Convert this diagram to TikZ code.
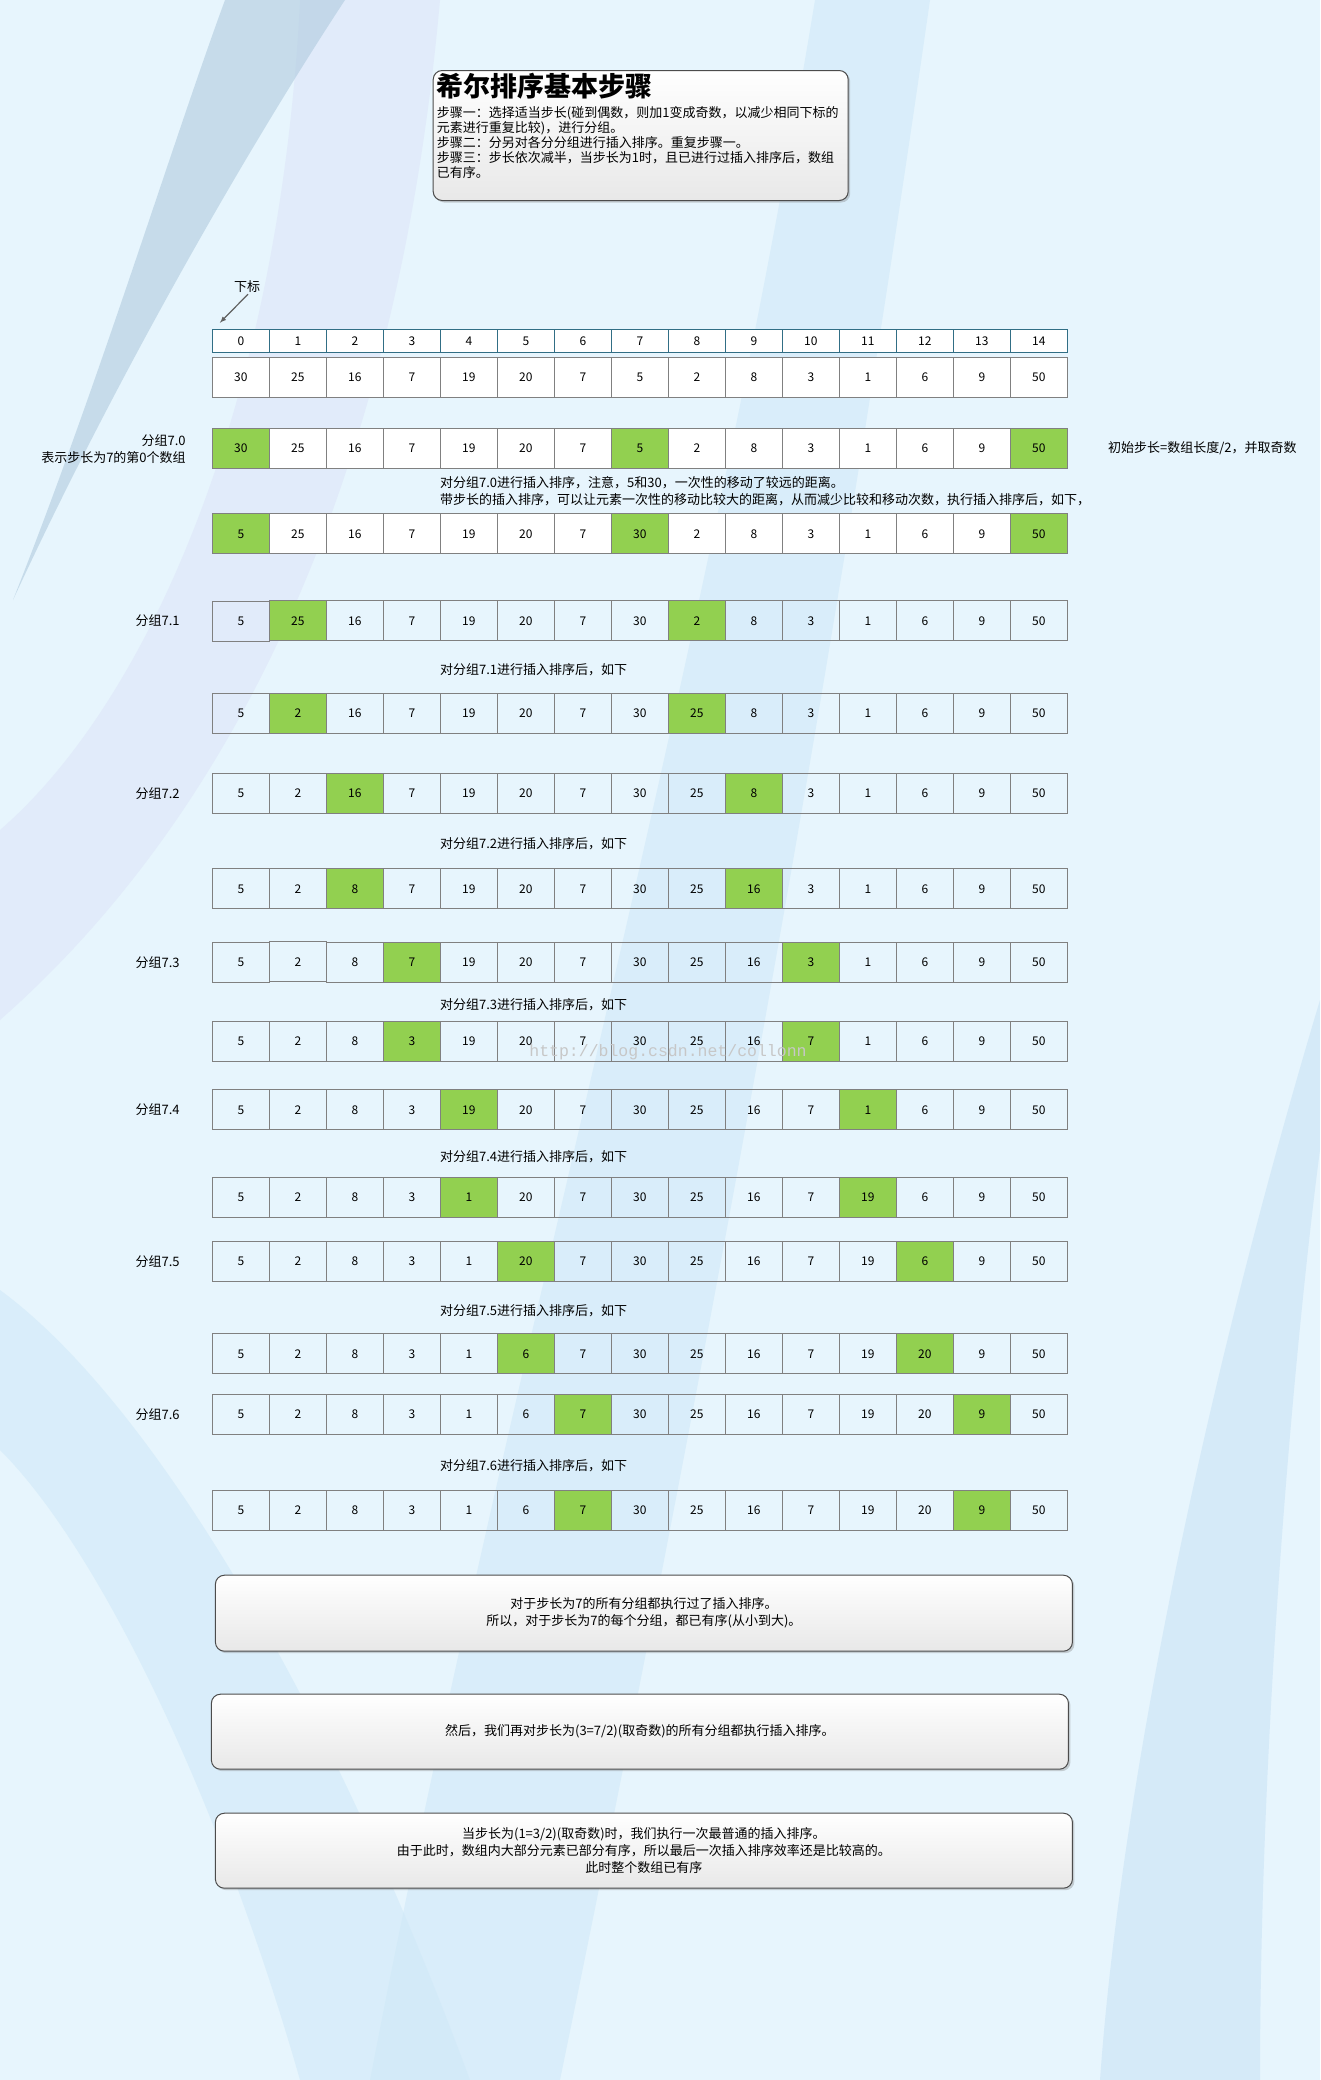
\documentclass[tikz,border=0pt]{standalone}
\usepackage{xcolor}
\usepackage{fontspec}
\setmainfont{Noto Sans CJK SC}
\newfontfamily\markfont{Liberation Mono}
\usepackage{tikz}
\usetikzlibrary{matrix}
\usetikzlibrary{positioning,calc,shadows}

\definecolor{bgblue}{RGB}{231,245,253}
\definecolor{swgray}{RGB}{176,203,222}
\definecolor{swlav}{RGB}{214,217,245}
\definecolor{swlight}{RGB}{208,233,248}
\definecolor{swblue}{RGB}{192,221,243}
\definecolor{cellgray}{RGB}{128,128,128}
\definecolor{idxteal}{RGB}{49,110,133}
\definecolor{hlgreen}{RGB}{146,208,80}
\definecolor{panelgray}{RGB}{232,232,232}
\definecolor{pointergray}{RGB}{96,96,96}

\tikzset{
  cell/.style={draw=cellgray, line width=1pt, minimum width=57pt, minimum height=40pt, inner sep=0pt, font=\fontsize{12}{14}\selectfont},
  idx/.style={draw=idxteal, fill=white, minimum height=23pt},
  hl/.style={fill=hlgreen},
  note/.style={font=\fontsize{13}{17}\selectfont, inner sep=0pt, align=left},
  grouplabel/.style={font=\fontsize{13}{17}\selectfont, inner sep=0pt, align=right},
  panel/.style={draw=black!70, line width=1pt, rounded corners=9pt, top color=white, bottom color=panelgray,
    drop shadow={shadow xshift=2pt, shadow yshift=-2pt, opacity=0.35}, align=center, font=\fontsize{13}{17}\selectfont}
}

\begin{document}
\begin{tikzpicture}[x=1pt,y=-1pt]
\useasboundingbox (0,0) rectangle (1320,2080);
\fill[bgblue] (0,0) rectangle (1320,2080);
\fill[swlav, opacity=.35] (300,0) .. controls (280,400) and (150,700) .. (0,830) -- (0,1020) .. controls (250,800) and (400,450) .. (440,0) -- cycle;
\fill[swgray, opacity=.6] (13,600) .. controls (100,380) and (170,150) .. (225,0) -- (345,0) .. controls (240,160) and (110,390) .. (13,600) -- cycle;
\fill[swlight, opacity=.6] (815,0) .. controls (700,700) and (500,1400) .. (370,2080) -- (560,2080) .. controls (700,1400) and (830,700) .. (930,0) -- cycle;
\fill[swlight, opacity=.6] (0,1290) .. controls (150,1400) and (330,1700) .. (470,2080) -- (300,2080) .. controls (220,1800) and (100,1550) .. (0,1450) -- cycle;
\fill[swblue, opacity=.45] (1320,1000) .. controls (1200,1400) and (1120,1800) .. (1100,2080) -- (1260,2080) .. controls (1260,1700) and (1300,1300) .. (1320,1150) -- cycle;

\node[panel, minimum width=415pt, minimum height=130pt, anchor=north west] (steps) at (432.7,70) {};
\node[anchor=north west, inner sep=0pt, font=\fontsize{27}{30}\selectfont\bfseries] (title) at ([xshift=4pt,yshift=-3pt]steps.north west) {希尔排序基本步骤};
\node[note, anchor=north west, font=\fontsize{13}{15}\selectfont] (body) at ([xshift=4pt,yshift=-36pt]steps.north west)
  {步骤一：选择适当步长(碰到偶数，则加1变成奇数，以减少相同下标的\\元素进行重复比较)，进行分组。\\步骤二：分另对各分分组进行插入排序。重复步骤一。\\步骤三：步长依次减半，当步长为1时，且已进行过插入排序后，数组\\已有序。};

\matrix[matrix of nodes, nodes={cell}, column sep=-1pt, row sep=0pt, inner sep=0pt, anchor=north west,
  row 1/.style={nodes={idx}}, row 2/.style={nodes={fill=white}}, row 3/.style={nodes={fill=white}}, row 4/.style={nodes={fill=white}}] (a) at (211.7,328.5)
{0 & 1 & 2 & 3 & 4 & 5 & 6 & 7 & 8 & 9 & 10 & 11 & 12 & 13 & 14 \\[4pt]
 30 & 25 & 16 & 7 & 19 & 20 & 7 & 5 & 2 & 8 & 3 & 1 & 6 & 9 & 50 \\[30pt]
 |[hl]|30 & 25 & 16 & 7 & 19 & 20 & 7 & |[hl]|5 & 2 & 8 & 3 & 1 & 6 & 9 & |[hl]|50 \\[44pt]
 |[hl]|5 & 25 & 16 & 7 & 19 & 20 & 7 & |[hl]|30 & 2 & 8 & 3 & 1 & 6 & 9 & |[hl]|50 \\[46pt]
 5 & |[hl]|25 & 16 & 7 & 19 & 20 & 7 & 30 & |[hl]|2 & 8 & 3 & 1 & 6 & 9 & 50 \\[51pt]
 5 & |[hl]|2 & 16 & 7 & 19 & 20 & 7 & 30 & |[hl]|25 & 8 & 3 & 1 & 6 & 9 & 50 \\[39pt]
 5 & 2 & |[hl]|16 & 7 & 19 & 20 & 7 & 30 & 25 & |[hl]|8 & 3 & 1 & 6 & 9 & 50 \\[54.5pt]
 5 & 2 & |[hl]|8 & 7 & 19 & 20 & 7 & 30 & 25 & |[hl]|16 & 3 & 1 & 6 & 9 & 50 \\[32pt]
 5 & 2 & 8 & |[hl]|7 & 19 & 20 & 7 & 30 & 25 & 16 & |[hl]|3 & 1 & 6 & 9 & 50 \\[38.5pt]
 5 & 2 & 8 & |[hl]|3 & 19 & 20 & 7 & 30 & 25 & 16 & |[hl]|7 & 1 & 6 & 9 & 50 \\[27pt]
 5 & 2 & 8 & 3 & |[hl]|19 & 20 & 7 & 30 & 25 & 16 & 7 & |[hl]|1 & 6 & 9 & 50 \\[46.5pt]
 5 & 2 & 8 & 3 & |[hl]|1 & 20 & 7 & 30 & 25 & 16 & 7 & |[hl]|19 & 6 & 9 & 50 \\[23pt]
 5 & 2 & 8 & 3 & 1 & |[hl]|20 & 7 & 30 & 25 & 16 & 7 & 19 & |[hl]|6 & 9 & 50 \\[51pt]
 5 & 2 & 8 & 3 & 1 & |[hl]|6 & 7 & 30 & 25 & 16 & 7 & 19 & |[hl]|20 & 9 & 50 \\[19.5pt]
 5 & 2 & 8 & 3 & 1 & 6 & |[hl]|7 & 30 & 25 & 16 & 7 & 19 & 20 & |[hl]|9 & 50 \\[54.5pt]
 5 & 2 & 8 & 3 & 1 & 6 & |[hl]|7 & 30 & 25 & 16 & 7 & 19 & 20 & |[hl]|9 & 50 \\
};

\node[note] (xiabiao) at (247,287) {下标};
\draw[pointergray, line width=1.2pt, -latex] ([xshift=1pt,yshift=-1pt]xiabiao.south) -- ([xshift=8pt,yshift=6pt]a-1-1.north west);

\node[grouplabel, left=26pt of a-3-1] (g70) {分组7.0\\表示步长为7的第0个数组};
\node[note, right=40pt of a-3-15] (init) {初始步长=数组长度/2，并取奇数};
\node[grouplabel, left=32pt of a-5-1] (g71) {分组7.1};
\node[grouplabel, left=32pt of a-7-1] (g72) {分组7.2};
\node[grouplabel, left=32pt of a-9-1] (g73) {分组7.3};
\node[grouplabel, left=32pt of a-11-1] (g74) {分组7.4};
\node[grouplabel, left=32pt of a-13-1] (g75) {分组7.5};
\node[grouplabel, left=32pt of a-15-1] (g76) {分组7.6};

\node[note, anchor=west] (n70) at ($(a-3-5.south west)!0.5!(a-4-5.north west)$) {对分组7.0进行插入排序，注意，5和30，一次性的移动了较远的距离。\\带步长的插入排序，可以让元素一次性的移动比较大的距离，从而减少比较和移动次数，执行插入排序后，如下，};
\node[note, anchor=west, yshift=-3pt] (n71) at ($(a-5-5.south west)!0.5!(a-6-5.north west)$) {对分组7.1进行插入排序后，如下};
\node[note, anchor=west, yshift=-3pt] (n72) at ($(a-7-5.south west)!0.5!(a-8-5.north west)$) {对分组7.2进行插入排序后，如下};
\node[note, anchor=west, yshift=-3pt] (n73) at ($(a-9-5.south west)!0.5!(a-10-5.north west)$) {对分组7.3进行插入排序后，如下};
\node[note, anchor=west, yshift=-3pt] (n74) at ($(a-11-5.south west)!0.5!(a-12-5.north west)$) {对分组7.4进行插入排序后，如下};
\node[note, anchor=west, yshift=-3pt] (n75) at ($(a-13-5.south west)!0.5!(a-14-5.north west)$) {对分组7.5进行插入排序后，如下};
\node[note, anchor=west, yshift=-3pt] (n76) at ($(a-15-5.south west)!0.5!(a-16-5.north west)$) {对分组7.6进行插入排序后，如下};

\node[font=\markfont\fontsize{16.5}{17}\selectfont, text=black!22, inner sep=0pt] (mark) at (668,1052) {http://blog.csdn.net/collonn};

\node[panel, minimum width=857pt, minimum height=76pt, below right=44pt and 3pt of a-16-1.south west] (done7)
  {对于步长为7的所有分组都执行过了插入排序。\\所以，对于步长为7的每个分组，都已有序(从小到大)。};
\node[panel, minimum width=857pt, minimum height=75pt, below=42pt of done7, xshift=-4pt] (step3)
  {然后，我们再对步长为(3=7/2)(取奇数)的所有分组都执行插入排序。};
\node[panel, minimum width=857pt, minimum height=75pt, below=43pt of step3, xshift=4pt] (step1)
  {当步长为(1=3/2)(取奇数)时，我们执行一次最普通的插入排序。\\由于此时，数组内大部分元素已部分有序，所以最后一次插入排序效率还是比较高的。\\此时整个数组已有序};
\end{tikzpicture}
\end{document}
